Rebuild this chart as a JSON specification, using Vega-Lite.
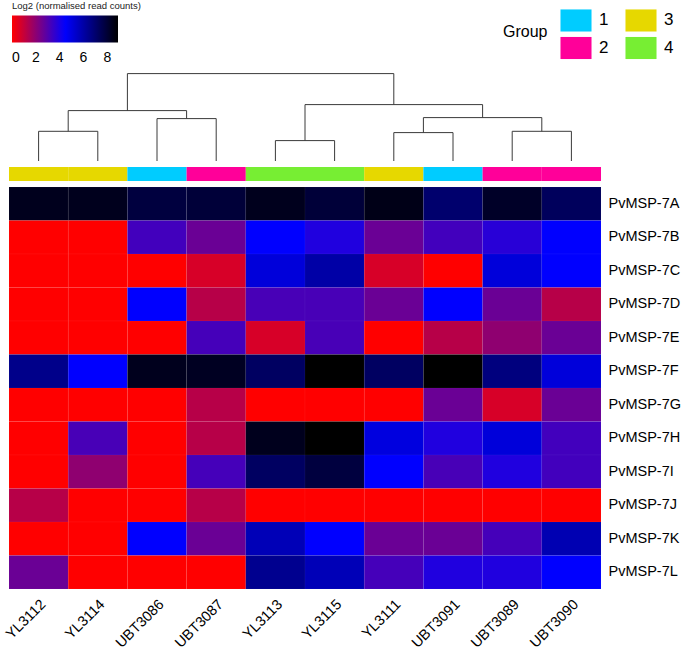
{
  "$schema": "https://vega.github.io/schema/vega-lite/v6.json",
  "padding": {"left": 2, "top": 0, "right": 0, "bottom": 0},
  "background": "white",
  "config": {"view": {"stroke": null}, "font": "Liberation Sans", "concat": {"spacing": 5}},
  "datasets": {
    "dendro": [
      {"x1": 0.5, "x2": 1.5, "h1": 29.7, "h2": 29.7}, {"x1": 0.5, "x2": 0.5, "h1": 0, "h2": 29.7}, {"x1": 1.5, "x2": 1.5, "h1": 0, "h2": 29.7},
      {"x1": 2.5, "x2": 3.5, "h1": 42.4, "h2": 42.4}, {"x1": 2.5, "x2": 2.5, "h1": 0, "h2": 42.4}, {"x1": 3.5, "x2": 3.5, "h1": 0, "h2": 42.4},
      {"x1": 1, "x2": 3, "h1": 50.4, "h2": 50.4}, {"x1": 1, "x2": 1, "h1": 29.7, "h2": 50.4}, {"x1": 3, "x2": 3, "h1": 42.4, "h2": 50.4},
      {"x1": 4.5, "x2": 5.5, "h1": 20.4, "h2": 20.4}, {"x1": 4.5, "x2": 4.5, "h1": 0, "h2": 20.4}, {"x1": 5.5, "x2": 5.5, "h1": 0, "h2": 20.4},
      {"x1": 6.5, "x2": 7.5, "h1": 28.4, "h2": 28.4}, {"x1": 6.5, "x2": 6.5, "h1": 0, "h2": 28.4}, {"x1": 7.5, "x2": 7.5, "h1": 0, "h2": 28.4},
      {"x1": 8.5, "x2": 9.5, "h1": 29.7, "h2": 29.7}, {"x1": 8.5, "x2": 8.5, "h1": 0, "h2": 29.7}, {"x1": 9.5, "x2": 9.5, "h1": 0, "h2": 29.7},
      {"x1": 7, "x2": 9, "h1": 43.4, "h2": 43.4}, {"x1": 7, "x2": 7, "h1": 28.4, "h2": 43.4}, {"x1": 9, "x2": 9, "h1": 29.7, "h2": 43.4},
      {"x1": 5, "x2": 8, "h1": 56.4, "h2": 56.4}, {"x1": 5, "x2": 5, "h1": 20.4, "h2": 56.4}, {"x1": 8, "x2": 8, "h1": 43.4, "h2": 56.4},
      {"x1": 2, "x2": 6.5, "h1": 87.4, "h2": 87.4}, {"x1": 2, "x2": 2, "h1": 50.4, "h2": 87.4}, {"x1": 6.5, "x2": 6.5, "h1": 56.4, "h2": 87.4}
    ],
    "groups": [
      {"sample": "YL3112", "group": "3"}, {"sample": "YL3114", "group": "3"}, {"sample": "UBT3086", "group": "1"},
      {"sample": "UBT3087", "group": "2"}, {"sample": "YL3113", "group": "4"}, {"sample": "YL3115", "group": "4"},
      {"sample": "YL3111", "group": "3"}, {"sample": "UBT3091", "group": "1"}, {"sample": "UBT3089", "group": "2"},
      {"sample": "UBT3090", "group": "2"}
    ],
    "expr": [
      {"gene": "PvMSP-7A", "sample": "YL3112", "value": 8.4}, {"gene": "PvMSP-7A", "sample": "YL3114", "value": 8.4}, {"gene": "PvMSP-7A", "sample": "UBT3086", "value": 7.8}, {"gene": "PvMSP-7A", "sample": "UBT3087", "value": 7.9}, {"gene": "PvMSP-7A", "sample": "YL3113", "value": 8.4}, {"gene": "PvMSP-7A", "sample": "YL3115", "value": 7.9}, {"gene": "PvMSP-7A", "sample": "YL3111", "value": 8.5}, {"gene": "PvMSP-7A", "sample": "UBT3091", "value": 7.0}, {"gene": "PvMSP-7A", "sample": "UBT3089", "value": 8.2}, {"gene": "PvMSP-7A", "sample": "UBT3090", "value": 7.3},
      {"gene": "PvMSP-7B", "sample": "YL3112", "value": 0}, {"gene": "PvMSP-7B", "sample": "YL3114", "value": 0}, {"gene": "PvMSP-7B", "sample": "UBT3086", "value": 3.3}, {"gene": "PvMSP-7B", "sample": "UBT3087", "value": 2.6}, {"gene": "PvMSP-7B", "sample": "YL3113", "value": 4.45}, {"gene": "PvMSP-7B", "sample": "YL3115", "value": 3.9}, {"gene": "PvMSP-7B", "sample": "YL3111", "value": 2.6}, {"gene": "PvMSP-7B", "sample": "UBT3091", "value": 3.3}, {"gene": "PvMSP-7B", "sample": "UBT3089", "value": 3.75}, {"gene": "PvMSP-7B", "sample": "UBT3090", "value": 4.45},
      {"gene": "PvMSP-7C", "sample": "YL3112", "value": 0}, {"gene": "PvMSP-7C", "sample": "YL3114", "value": 0}, {"gene": "PvMSP-7C", "sample": "UBT3086", "value": 0}, {"gene": "PvMSP-7C", "sample": "UBT3087", "value": 0.7}, {"gene": "PvMSP-7C", "sample": "YL3113", "value": 5.1}, {"gene": "PvMSP-7C", "sample": "YL3115", "value": 6.0}, {"gene": "PvMSP-7C", "sample": "YL3111", "value": 0.7}, {"gene": "PvMSP-7C", "sample": "UBT3091", "value": 0}, {"gene": "PvMSP-7C", "sample": "UBT3089", "value": 5.1}, {"gene": "PvMSP-7C", "sample": "UBT3090", "value": 4.45},
      {"gene": "PvMSP-7D", "sample": "YL3112", "value": 0}, {"gene": "PvMSP-7D", "sample": "YL3114", "value": 0}, {"gene": "PvMSP-7D", "sample": "UBT3086", "value": 4.45}, {"gene": "PvMSP-7D", "sample": "UBT3087", "value": 1.25}, {"gene": "PvMSP-7D", "sample": "YL3113", "value": 3.2}, {"gene": "PvMSP-7D", "sample": "YL3115", "value": 3.2}, {"gene": "PvMSP-7D", "sample": "YL3111", "value": 2.6}, {"gene": "PvMSP-7D", "sample": "UBT3091", "value": 4.45}, {"gene": "PvMSP-7D", "sample": "UBT3089", "value": 2.6}, {"gene": "PvMSP-7D", "sample": "UBT3090", "value": 1.25},
      {"gene": "PvMSP-7E", "sample": "YL3112", "value": 0}, {"gene": "PvMSP-7E", "sample": "YL3114", "value": 0}, {"gene": "PvMSP-7E", "sample": "UBT3086", "value": 0}, {"gene": "PvMSP-7E", "sample": "UBT3087", "value": 3.25}, {"gene": "PvMSP-7E", "sample": "YL3113", "value": 0.7}, {"gene": "PvMSP-7E", "sample": "YL3115", "value": 3.2}, {"gene": "PvMSP-7E", "sample": "YL3111", "value": 0}, {"gene": "PvMSP-7E", "sample": "UBT3091", "value": 1.25}, {"gene": "PvMSP-7E", "sample": "UBT3089", "value": 1.95}, {"gene": "PvMSP-7E", "sample": "UBT3090", "value": 2.6},
      {"gene": "PvMSP-7F", "sample": "YL3112", "value": 6.5}, {"gene": "PvMSP-7F", "sample": "YL3114", "value": 4.45}, {"gene": "PvMSP-7F", "sample": "UBT3086", "value": 8.4}, {"gene": "PvMSP-7F", "sample": "UBT3087", "value": 8.3}, {"gene": "PvMSP-7F", "sample": "YL3113", "value": 7.2}, {"gene": "PvMSP-7F", "sample": "YL3115", "value": 8.9}, {"gene": "PvMSP-7F", "sample": "YL3111", "value": 7.2}, {"gene": "PvMSP-7F", "sample": "UBT3091", "value": 8.9}, {"gene": "PvMSP-7F", "sample": "UBT3089", "value": 6.7}, {"gene": "PvMSP-7F", "sample": "UBT3090", "value": 5.1},
      {"gene": "PvMSP-7G", "sample": "YL3112", "value": 0}, {"gene": "PvMSP-7G", "sample": "YL3114", "value": 0}, {"gene": "PvMSP-7G", "sample": "UBT3086", "value": 0}, {"gene": "PvMSP-7G", "sample": "UBT3087", "value": 1.25}, {"gene": "PvMSP-7G", "sample": "YL3113", "value": 0}, {"gene": "PvMSP-7G", "sample": "YL3115", "value": 0}, {"gene": "PvMSP-7G", "sample": "YL3111", "value": 0}, {"gene": "PvMSP-7G", "sample": "UBT3091", "value": 2.6}, {"gene": "PvMSP-7G", "sample": "UBT3089", "value": 0.7}, {"gene": "PvMSP-7G", "sample": "UBT3090", "value": 2.6},
      {"gene": "PvMSP-7H", "sample": "YL3112", "value": 0}, {"gene": "PvMSP-7H", "sample": "YL3114", "value": 3.2}, {"gene": "PvMSP-7H", "sample": "UBT3086", "value": 0}, {"gene": "PvMSP-7H", "sample": "UBT3087", "value": 1.25}, {"gene": "PvMSP-7H", "sample": "YL3113", "value": 8.4}, {"gene": "PvMSP-7H", "sample": "YL3115", "value": 8.9}, {"gene": "PvMSP-7H", "sample": "YL3111", "value": 5.0}, {"gene": "PvMSP-7H", "sample": "UBT3091", "value": 3.9}, {"gene": "PvMSP-7H", "sample": "UBT3089", "value": 5.1}, {"gene": "PvMSP-7H", "sample": "UBT3090", "value": 3.3},
      {"gene": "PvMSP-7I", "sample": "YL3112", "value": 0}, {"gene": "PvMSP-7I", "sample": "YL3114", "value": 1.95}, {"gene": "PvMSP-7I", "sample": "UBT3086", "value": 0}, {"gene": "PvMSP-7I", "sample": "UBT3087", "value": 3.25}, {"gene": "PvMSP-7I", "sample": "YL3113", "value": 7.2}, {"gene": "PvMSP-7I", "sample": "YL3115", "value": 7.8}, {"gene": "PvMSP-7I", "sample": "YL3111", "value": 4.45}, {"gene": "PvMSP-7I", "sample": "UBT3091", "value": 3.2}, {"gene": "PvMSP-7I", "sample": "UBT3089", "value": 3.9}, {"gene": "PvMSP-7I", "sample": "UBT3090", "value": 3.3},
      {"gene": "PvMSP-7J", "sample": "YL3112", "value": 1.25}, {"gene": "PvMSP-7J", "sample": "YL3114", "value": 0}, {"gene": "PvMSP-7J", "sample": "UBT3086", "value": 0}, {"gene": "PvMSP-7J", "sample": "UBT3087", "value": 1.25}, {"gene": "PvMSP-7J", "sample": "YL3113", "value": 0}, {"gene": "PvMSP-7J", "sample": "YL3115", "value": 0}, {"gene": "PvMSP-7J", "sample": "YL3111", "value": 0}, {"gene": "PvMSP-7J", "sample": "UBT3091", "value": 0}, {"gene": "PvMSP-7J", "sample": "UBT3089", "value": 0}, {"gene": "PvMSP-7J", "sample": "UBT3090", "value": 0},
      {"gene": "PvMSP-7K", "sample": "YL3112", "value": 0}, {"gene": "PvMSP-7K", "sample": "YL3114", "value": 0}, {"gene": "PvMSP-7K", "sample": "UBT3086", "value": 4.45}, {"gene": "PvMSP-7K", "sample": "UBT3087", "value": 2.6}, {"gene": "PvMSP-7K", "sample": "YL3113", "value": 5.7}, {"gene": "PvMSP-7K", "sample": "YL3115", "value": 4.45}, {"gene": "PvMSP-7K", "sample": "YL3111", "value": 2.6}, {"gene": "PvMSP-7K", "sample": "UBT3091", "value": 2.6}, {"gene": "PvMSP-7K", "sample": "UBT3089", "value": 3.25}, {"gene": "PvMSP-7K", "sample": "UBT3090", "value": 5.8},
      {"gene": "PvMSP-7L", "sample": "YL3112", "value": 2.6}, {"gene": "PvMSP-7L", "sample": "YL3114", "value": 0}, {"gene": "PvMSP-7L", "sample": "UBT3086", "value": 0}, {"gene": "PvMSP-7L", "sample": "UBT3087", "value": 0}, {"gene": "PvMSP-7L", "sample": "YL3113", "value": 6.4}, {"gene": "PvMSP-7L", "sample": "YL3115", "value": 5.7}, {"gene": "PvMSP-7L", "sample": "YL3111", "value": 3.25}, {"gene": "PvMSP-7L", "sample": "UBT3091", "value": 3.9}, {"gene": "PvMSP-7L", "sample": "UBT3089", "value": 3.9}, {"gene": "PvMSP-7L", "sample": "UBT3090", "value": 4.45}
    ]
  },
  "vconcat": [
    {
      "width": 592,
      "height": 161,
      "data": {"name": "dendro"},
      "mark": {"type": "rule", "color": "#3a3a3a", "strokeWidth": 1},
      "encoding": {
        "x": {"field": "x1", "type": "quantitative", "scale": {"domain": [0, 10], "nice": false, "zero": false}, "axis": null},
        "x2": {"field": "x2"},
        "y": {"field": "h1", "type": "quantitative", "scale": {"domain": [0, 161], "nice": false}, "axis": null},
        "y2": {"field": "h2"}
      }
    },
    {
      "width": 592,
      "height": 14,
      "data": {"name": "groups"},
      "mark": {"type": "rect"},
      "encoding": {
        "x": {"field": "sample", "type": "nominal", "sort": ["YL3112", "YL3114", "UBT3086", "UBT3087", "YL3113", "YL3115", "YL3111", "UBT3091", "UBT3089", "UBT3090"], "scale": {"paddingInner": 0, "paddingOuter": 0}, "axis": null},
        "color": {
          "field": "group", "type": "nominal",
          "scale": {"domain": ["1", "2", "3", "4"], "range": ["#00ccff", "#ff0099", "#e6d800", "#77ee33"]},
          "legend": {
            "orient": "none", "legendX": 494, "legendY": 4, "title": "Group", "titleOrient": "left",
            "titleFontSize": 16, "titleFontWeight": "normal", "titleColor": "#000", "titlePadding": 12, "titleBaseline": "middle", "titleAnchor": "middle",
            "columns": 2, "columnPadding": 16, "rowPadding": 0, "padding": 0,
            "symbolType": "M-0.97,-0.69H0.97V0.69H-0.97Z", "symbolSize": 1024, "symbolStrokeWidth": 0, "symbolOpacity": 1,
            "labelFontSize": 17, "labelColor": "#000", "labelOffset": 7
          }
        }
      }
    },
    {
      "width": 592,
      "height": 402,
      "data": {"name": "expr"},
      "mark": {"type": "rect", "stroke": "#ffffff", "strokeOpacity": 0.06, "strokeWidth": 0.6},
      "encoding": {
        "x": {
          "field": "sample", "type": "nominal",
          "sort": ["YL3112", "YL3114", "UBT3086", "UBT3087", "YL3113", "YL3115", "YL3111", "UBT3091", "UBT3089", "UBT3090"],
          "axis": {"orient": "bottom", "title": null, "labelAngle": -45, "labelFontSize": 14.5, "labelColor": "#000", "ticks": false, "domain": false, "labelPadding": 8, "labelDx": 6}
        },
        "y": {
          "field": "gene", "type": "nominal",
          "axis": {"orient": "right", "title": null, "labelFontSize": 14.5, "labelColor": "#000", "ticks": false, "domain": false, "labelPadding": 7}
        },
        "fill": {
          "field": "value", "type": "quantitative",
          "scale": {"type": "linear", "domain": [0, 4.45, 8.9], "range": ["#ff0000", "#0000ff", "#000000"], "interpolate": "rgb"},
          "legend": {
            "orient": "none", "legendX": 3, "legendY": 1, "direction": "horizontal",
            "title": "Log2 (normalised read counts)", "titleFontSize": 9.5, "titleFontWeight": "normal", "titleColor": "#222", "titlePadding": 5,
            "gradientLength": 106, "gradientThickness": 27, "gradientStrokeWidth": 0, "padding": 0,
            "values": [0, 2, 4, 6, 8], "labelFontSize": 14, "labelColor": "#000", "labelOffset": 8, "labelOverlap": false
          }
        }
      }
    }
  ]
}
